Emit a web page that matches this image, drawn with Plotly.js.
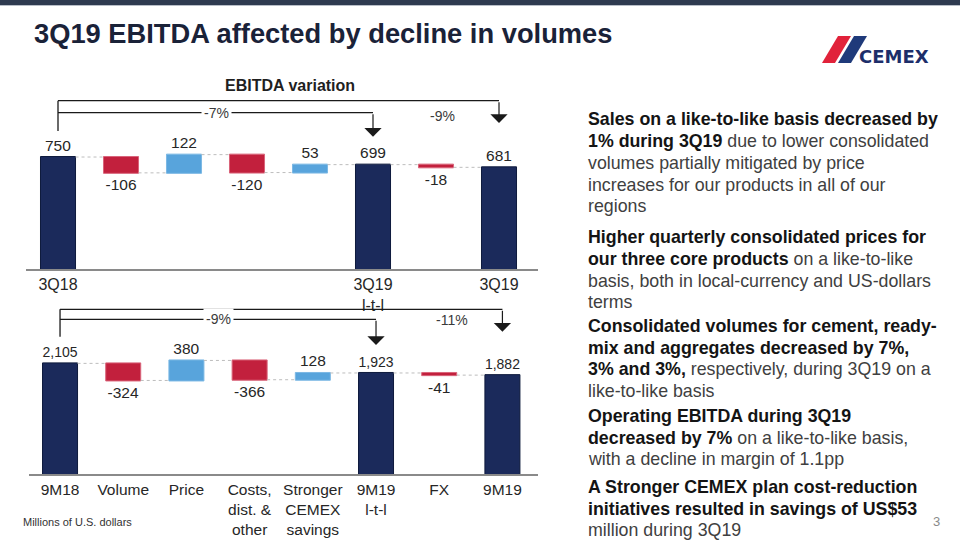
<!DOCTYPE html>
<html>
<head>
<meta charset="utf-8">
<script src="https://cdn.plot.ly/plotly-3.0.1.min.js"></script>
<style>html,body{margin:0;padding:0;background:#fff;}#chart{width:960px;height:540px;}</style>
</head>
<body>
<div id="chart"></div>
<script>
// ---------- data ----------
const stepKeys = ['start', 'volume', 'price', 'costs', 'savings', 'ltl', 'fx', 'end'];
const measures = ['absolute', 'relative', 'relative', 'relative', 'relative', 'total', 'relative', 'total'];
const quarterValues = [750, -106, 122, -120, 53, null, -18, null];
const ytdValues = [2105, -324, 380, -366, 128, null, -41, null];
const quarterTickLabels = ['3Q18', '', '', '', '', '3Q19<br>l-t-l', '', '3Q19'];
const ytdTickLabels = ['9M18', 'Volume', 'Price', 'Costs,<br>dist. &amp;<br>other', 'Stronger<br>CEMEX<br>savings', '9M19<br>l-t-l', 'FX', '9M19'];
const quarterChanges = ['-7%', '-9%'];
const ytdChanges = ['-9%', '-11%'];

// bullet text lines with their vertical centre (pixels)
const bulletLines = [
  ['<b>Sales on a like-to-like basis decreased by</b>', 119],
  ['<b>1% during 3Q19</b> due to lower consolidated', 141],
  ['volumes partially mitigated by price', 163],
  ['increases for our products in all of our', 184.5],
  ['regions', 206],
  ['<b>Higher quarterly consolidated prices for</b>', 237],
  ['<b>our three core products</b> on a like-to-like', 259],
  ['basis, both in local-currency and US-dollars', 280.5],
  ['terms', 302],
  ['<b>Consolidated volumes for cement, ready-</b>', 326],
  ['<b>mix and aggregates decreased by 7%,</b>', 347.5],
  ['<b>3% and 3%,</b> respectively, during 3Q19 on a', 369],
  ['like-to-like basis', 390.5],
  ['<b>Operating EBITDA during 3Q19</b>', 416],
  ['<b>decreased by 7%</b> on a like-to-like basis,', 437.5],
  ['with a decline in margin of 1.1pp', 459],
  ['<b>A Stronger CEMEX plan cost-reduction</b>', 487],
  ['<b>initiatives resulted in savings of US$53</b>', 508.5],
  ['million during 3Q19', 530]
];

// ---------- helpers ----------
const W = 960, H = 540;
const PX = x => x / W;
const PY = y => 1 - y / H;
const fmt = v => v.toLocaleString('en-US');
const FONT = 'Liberation Sans, Arial, sans-serif';

function labelsFor(values) {
  let run = 0;
  return values.map((v, i) => {
    if (measures[i] === 'total') return fmt(run);
    if (measures[i] === 'absolute') run = v; else run += v;
    return fmt(v);
  });
}

const COL_TOTAL = '#1b2a5b';
const COL_UP = '#58a4dc';
const COL_DOWN = '#c2203d';

function wf(values, xa, ya, w) {
  return {
    type: 'waterfall', x: stepKeys, y: values, measure: measures,
    xaxis: xa, yaxis: ya, width: w,
    text: labelsFor(values), textposition: 'outside', cliponaxis: false,
    textfont: {family: FONT, size: 15.5, color: '#262626'},
    connector: {mode: 'between', line: {color: '#bdbdbd', width: 1, dash: 'dot'}},
    increasing: {marker: {color: COL_UP, line: {color: '#7cb8e4', width: 1}}},
    decreasing: {marker: {color: COL_DOWN, line: {color: '#d9647a', width: 1}}},
    totals: {marker: {color: COL_TOTAL, line: {color: '#0e1a3c', width: 1}}},
    hoverinfo: 'skip', showlegend: false
  };
}

const data = [
  wf(quarterValues, 'x', 'y', 0.556),
  wf(ytdValues, 'x2', 'y2', 0.554)
];

function xAxis(domain, range, ticks, anchor, fs) {
  return {
    anchor: anchor, domain: domain, range: range, type: 'category',
    categoryorder: 'array', categoryarray: stepKeys,
    tickmode: 'array', tickvals: stepKeys, ticktext: ticks,
    showline: true, linecolor: '#8a8a8a', linewidth: 2,
    ticks: '', tickfont: {family: FONT, size: fs, color: '#262626'},
    showgrid: false, zeroline: false, fixedrange: true
  };
}

const layout = {
  width: W, height: H, margin: {l: 0, r: 0, t: 0, b: 0},
  paper_bgcolor: '#ffffff', plot_bgcolor: 'rgba(0,0,0,0)',
  showlegend: false,
  font: {family: FONT},
  xaxis: xAxis([PX(26), PX(538)], [-0.508, 7.619], quarterTickLabels, 'y', 16),
  yaxis: {anchor: 'x', domain: [PY(269), PY(119.7)], range: [0, 1000], visible: false, fixedrange: true},
  xaxis2: xAxis([PX(29), PX(538)], [-0.491, 7.563], ytdTickLabels, 'y2', 15.5),
  yaxis2: {anchor: 'x2', domain: [PY(474.3), PY(335.2)], range: [0, 2640], visible: false, fixedrange: true},
  shapes: [],
  annotations: []
};

const S = layout.shapes, A = layout.annotations;
// top band
S.push({type: 'rect', xref: 'paper', yref: 'paper', x0: 0, x1: 1, y0: PY(5), y1: 1, fillcolor: '#2e3a50', line: {width: 0}});
S.push({type: 'line', xref: 'paper', yref: 'paper', x0: 0, x1: 1, y0: PY(5.5), y1: PY(5.5), line: {color: '#b8bec8', width: 1}});

// logo
S.push({type: 'path', xref: 'paper', yref: 'paper', path: `M ${PX(822)},${PY(63)} L ${PX(835)},${PY(63)} L ${PX(851)},${PY(36)} L ${PX(838)},${PY(36)} Z`, fillcolor: '#e1223a', line: {width: 0}});
S.push({type: 'path', xref: 'paper', yref: 'paper', path: `M ${PX(838)},${PY(63)} L ${PX(851)},${PY(63)} L ${PX(867)},${PY(36)} L ${PX(854)},${PY(36)} Z`, fillcolor: '#1f3a7a', line: {width: 0}});
A.push({xref: 'paper', yref: 'paper', x: PX(857), y: PY(56), xanchor: 'left', yanchor: 'middle', showarrow: false,
  text: '<b>CEMEX</b>', font: {family: 'DejaVu Sans, sans-serif', size: 18, color: '#1d2e6a'}});

// title
A.push({xref: 'paper', yref: 'paper', x: PX(32), y: PY(33.5), xanchor: 'left', yanchor: 'middle', showarrow: false,
  text: '<b>3Q19 EBITDA affected by decline in volumes</b>', font: {family: FONT, size: 27.3, color: '#1a2238'}});
A.push({xref: 'paper', yref: 'paper', x: PX(290), y: PY(85), xanchor: 'center', yanchor: 'middle', showarrow: false,
  text: '<b>EBITDA variation</b>', font: {family: FONT, size: 16, color: '#1f1f1f'}});

// brackets
const LINE = {color: '#1a1a1a', width: 1.3};
const pctFont = {family: FONT, size: 14, color: '#3a3a3a'};
function arrowDown(xa, x, topY, tipY) {
  A.push({xref: xa, yref: 'paper', x: x, y: PY(tipY), text: '', showarrow: true, arrowhead: 1, arrowsize: 2.4, arrowwidth: 1.2,
    arrowcolor: '#1a1a1a', axref: 'pixel', ayref: 'pixel', ax: 0, ay: -(tipY - topY), standoff: 0, startstandoff: 0});
}
function bracket(xa, outerY, innerY, leftBottom, outerTip, innerTip, labels, lab1x, lab2x, lab2y) {
  S.push({type: 'line', xref: xa, yref: 'paper', x0: 0, x1: 7, y0: PY(outerY), y1: PY(outerY), line: LINE});
  S.push({type: 'line', xref: xa, yref: 'paper', x0: 0, x1: 5, y0: PY(innerY), y1: PY(innerY), line: LINE});
  S.push({type: 'line', xref: xa, yref: 'paper', x0: 0, x1: 0, y0: PY(outerY), y1: PY(leftBottom), line: LINE});
  arrowDown(xa, 7, outerY, outerTip);
  arrowDown(xa, 5, innerY, innerTip);
  A.push({xref: xa, yref: 'paper', x: lab1x, y: PY(innerY), text: labels[0], showarrow: false, bgcolor: '#ffffff',
    borderpad: 2, xanchor: 'center', yanchor: 'middle', font: pctFont});
  A.push({xref: xa, yref: 'paper', x: lab2x, y: PY(lab2y), text: labels[1], showarrow: false,
    xanchor: 'center', yanchor: 'middle', font: pctFont});
}
bracket('x', 100.7, 112.7, 131, 123, 136.7, quarterChanges, 2.52, 6.11, 116);
bracket('x2', 309.3, 319.3, 336.7, 331.7, 345, ytdChanges, 2.5, 6.2, 320);

// footnotes
A.push({xref: 'paper', yref: 'paper', x: PX(21), y: PY(522), xanchor: 'left', yanchor: 'middle', showarrow: false,
  text: 'Millions of U.S. dollars', font: {family: FONT, size: 11, color: '#333333'}});
A.push({xref: 'paper', yref: 'paper', x: PX(942), y: PY(521), xanchor: 'right', yanchor: 'middle', showarrow: false,
  text: '3', font: {family: FONT, size: 13, color: '#8a8a8a'}});

// right text, one annotation per line
bulletLines.forEach(([txt, cy]) => {
  const styled = txt.replace(/<b>(.*?)<\/b>/g, '<b><span style="color:#141414">$1</span></b>');
  A.push({xref: 'paper', yref: 'paper', x: PX(586), y: PY(cy), xanchor: 'left', yanchor: 'middle', align: 'left', showarrow: false,
    text: styled, font: {family: FONT, size: 17.8, color: '#404040'}});
});

Plotly.newPlot('chart', data, layout, {displayModeBar: false, staticPlot: true});
</script>
</body>
</html>
